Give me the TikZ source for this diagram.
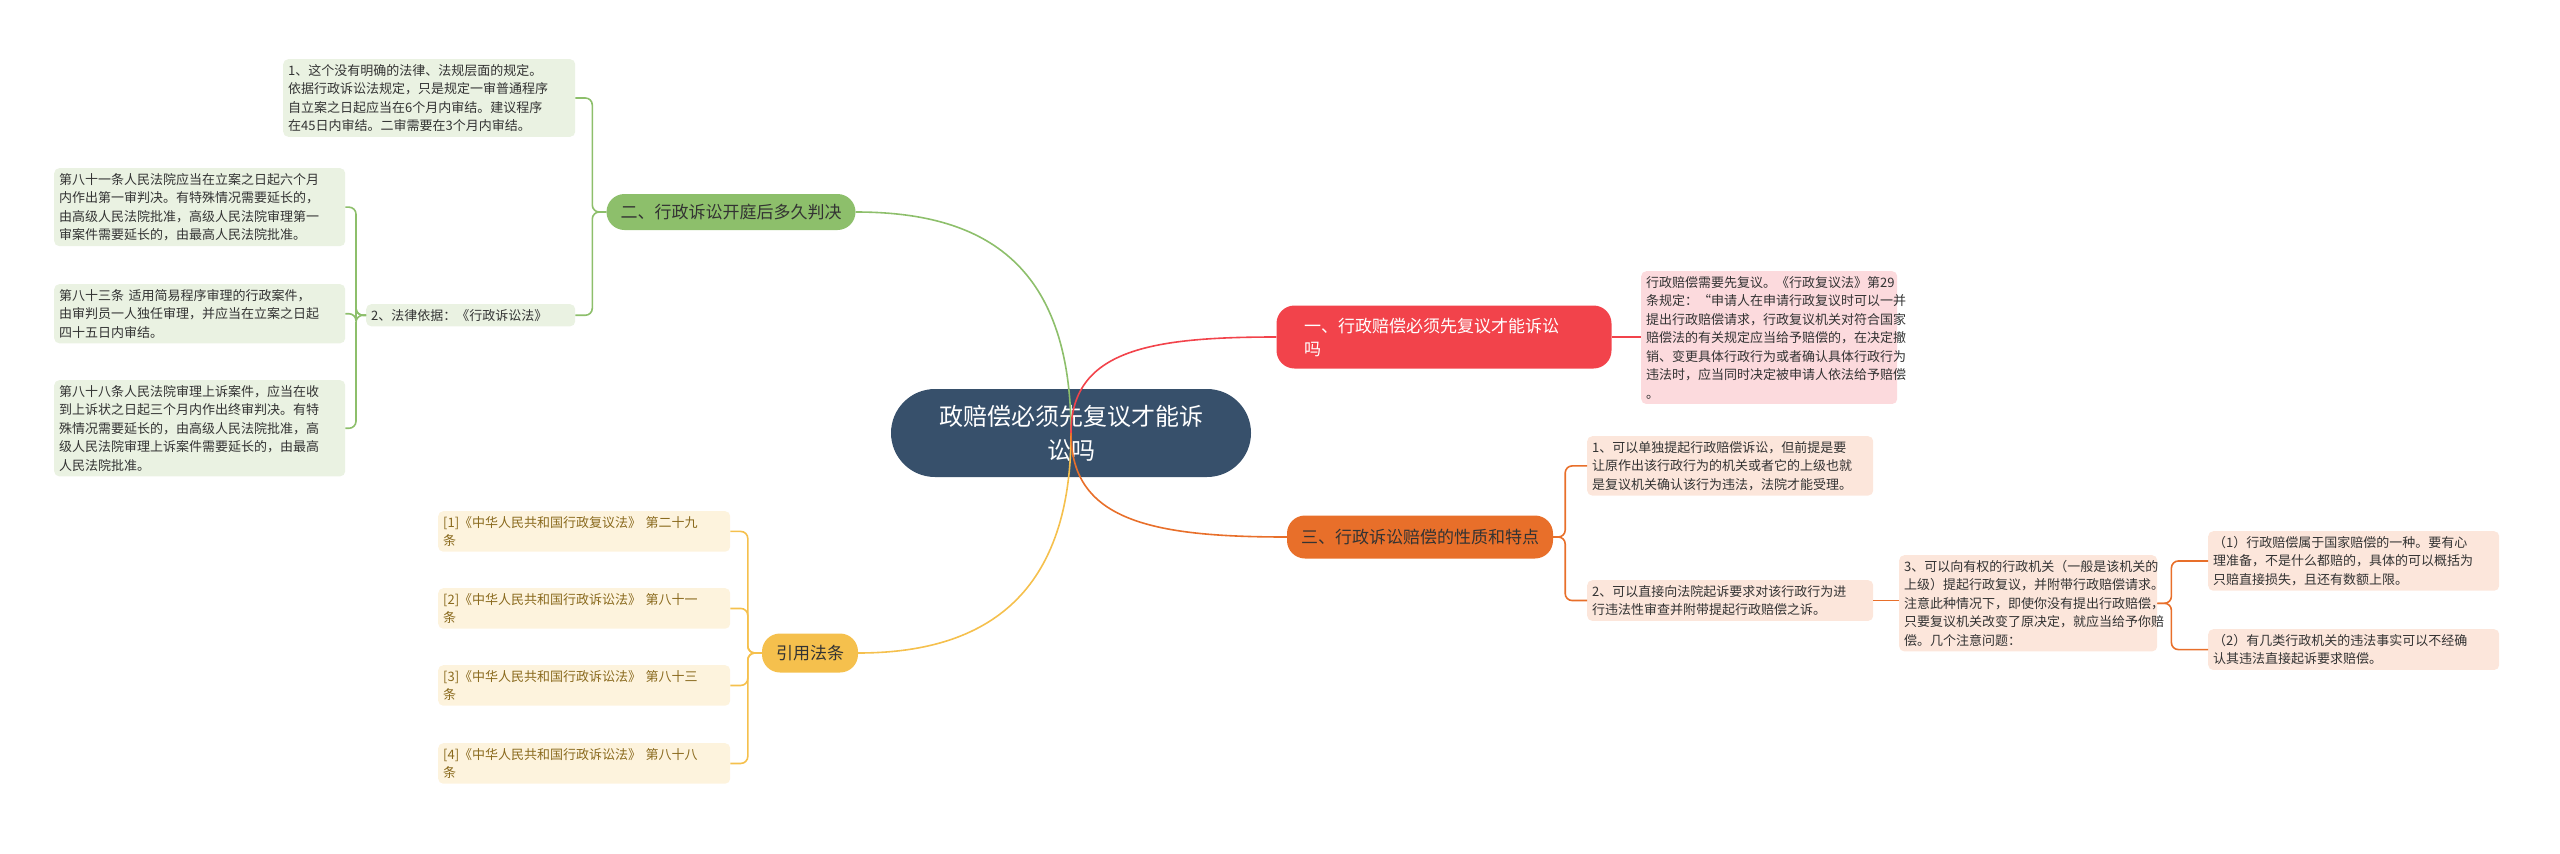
\documentclass[tikz,border=0pt]{standalone}
\usepackage{fontspec}
\setmainfont{Noto Sans CJK SC}
\usetikzlibrary{positioning}
\definecolor{cen}{HTML}{37506B}
\definecolor{grn}{HTML}{8DBF6B}
\definecolor{grnbg}{HTML}{EAF2E2}
\definecolor{red1}{HTML}{F2434B}
\definecolor{redbg}{HTML}{FCDADD}
\definecolor{org}{HTML}{E86F2A}
\definecolor{orgbg}{HTML}{FCE6DB}
\definecolor{yel}{HTML}{F5C04D}
\definecolor{yelbg}{HTML}{FDF3DD}
\definecolor{yeltx}{HTML}{8A6A1E}
\definecolor{txt}{HTML}{333333}
\begin{document}
\begin{tikzpicture}[x=1pt,y=-1pt,
  leaf/.style={rounded corners=5pt, text width=#1, align=left, inner sep=5pt, font=\fontsize{13}{18.5}\selectfont, text=txt},
  leaf/.default=262pt,
  gleaf/.style={leaf=#1, fill=grnbg},
  rleaf/.style={leaf=#1, fill=redbg},
  oleaf/.style={leaf=#1, fill=orgbg},
  yleaf/.style={leaf=#1, fill=yelbg, text=yeltx},
  branch/.style={rounded corners=18pt, inner xsep=14pt, inner ysep=8pt, font=\fontsize{17}{23}\selectfont, align=left},
  gl/.style={grn, line width=1.6pt},
  rl/.style={red1, line width=1.6pt},
  ol/.style={org, line width=1.6pt},
  yl/.style={yel, line width=1.6pt},
  br/.style={rounded corners=7pt}]
\useasboundingbox (0,0) rectangle (2560,854);

% center
\node[fill=cen, rounded corners=44pt, minimum width=360pt, minimum height=88pt, text=white, align=center, font=\fontsize{24}{34}\selectfont] (c) at (1071,433) {政赔偿必须先复议才能诉\\讼吗};

% branches
\node[branch, fill=red1, text=white, minimum width=335pt, minimum height=63pt, text width=280pt] (b1) at (1444,337) {一、行政赔偿必须先复议才能诉讼\\吗};
\node[branch, fill=grn, text=txt, minimum height=36pt] (b2) at (731,212) {二、行政诉讼开庭后多久判决};
\node[branch, fill=org, text=txt, minimum height=43pt] (b3) at (1420,537) {三、行政诉讼赔偿的性质和特点};
\node[branch, fill=yel, text=txt, minimum height=39pt] (b4) at (810,653) {引用法条};

% red leaf
\node[rleaf=246pt, anchor=north west] (r1) at (1641,271) {行政赔偿需要先复议。《行政复议法》第29\\条规定：“申请人在申请行政复议时可以一并\\提出行政赔偿请求，行政复议机关对符合国家\\赔偿法的有关规定应当给予赔偿的，在决定撤\\销、变更具体行政行为或者确认具体行政行为\\违法时，应当同时决定被申请人依法给予赔偿\\。};

% orange leaves
\node[oleaf=276pt, anchor=north west] (o1) at (1587,436) {1、可以单独提起行政赔偿诉讼，但前提是要\\让原作出该行政行为的机关或者它的上级也就\\是复议机关确认该行为违法，法院才能受理。};
\node[oleaf=276pt, anchor=north west] (o2) at (1587,580) {2、可以直接向法院起诉要求对该行政行为进\\行违法性审查并附带提起行政赔偿之诉。};
\node[oleaf=248pt, anchor=north west] (o3) at (1899,555) {3、可以向有权的行政机关（一般是该机关的\\上级）提起行政复议，并附带行政赔偿请求。\\注意此种情况下，即使你没有提出行政赔偿，\\只要复议机关改变了原决定，就应当给予你赔\\偿。几个注意问题：};
\node[oleaf=281pt, anchor=north west] (o4) at (2208,531) {（1）行政赔偿属于国家赔偿的一种。要有心\\理准备，不是什么都赔的，具体的可以概括为\\只赔直接损失，且还有数额上限。};
\node[oleaf=281pt, anchor=north west] (o5) at (2208,629) {（2）有几类行政机关的违法事实可以不经确\\认其违法直接起诉要求赔偿。};

% green leaves
\node[gleaf=282pt, anchor=north west] (g1) at (283,59) {1、这个没有明确的法律、法规层面的规定。\\依据行政诉讼法规定，只是规定一审普通程序\\自立案之日起应当在6个月内审结。建议程序\\在45日内审结。二审需要在3个月内审结。};
\node[gleaf=199pt, anchor=north west] (g2) at (366,304) {2、法律依据：《行政诉讼法》};
\node[gleaf=281pt, anchor=north west] (g3) at (54,168) {第八十一条人民法院应当在立案之日起六个月\\内作出第一审判决。有特殊情况需要延长的，\\由高级人民法院批准，高级人民法院审理第一\\审案件需要延长的，由最高人民法院批准。};
\node[gleaf=281pt, anchor=north west] (g4) at (54,284) {第八十三条 适用简易程序审理的行政案件，\\由审判员一人独任审理，并应当在立案之日起\\四十五日内审结。};
\node[gleaf=281pt, anchor=north west] (g5) at (54,380) {第八十八条人民法院审理上诉案件，应当在收\\到上诉状之日起三个月内作出终审判决。有特\\殊情况需要延长的，由高级人民法院批准，高\\级人民法院审理上诉案件需要延长的，由最高\\人民法院批准。};

% yellow leaves
\node[yleaf=282pt, anchor=north west] (y1) at (438,511) {[1]《中华人民共和国行政复议法》 第二十九\\条};
\node[yleaf=282pt, anchor=north west] (y2) at (438,588) {[2]《中华人民共和国行政诉讼法》 第八十一\\条};
\node[yleaf=282pt, anchor=north west] (y3) at (438,665) {[3]《中华人民共和国行政诉讼法》 第八十三\\条};
\node[yleaf=282pt, anchor=north west] (y4) at (438,743) {[4]《中华人民共和国行政诉讼法》 第八十八\\条};

% main connectors
\draw[gl] (c.center) .. controls (1071,260) and (980,212) .. (b2.east);
\draw[yl] (c.center) .. controls (1071,600) and (980,653) .. (b4.east);
\draw[rl] (c.center) .. controls (1071,350) and (1150,337) .. (b1.west);
\draw[ol] (c.center) .. controls (1071,520) and (1150,537) .. (b3.west);

% sub connectors
\draw[rl] (b1.east) -- (r1.west |- b1.east);
\foreach \t in {g1,g2} \draw[gl,br] (b2.west) -- ++(-14,0) |- (\t.east);
\foreach \t in {g3,g4,g5} \draw[gl,br] (g2.west) -- ++(-10,0) |- (\t.east);
\foreach \t in {y1,y2,y3,y4} \draw[yl,br] (b4.west) -- ++(-14,0) |- (\t.east);
\foreach \t in {o1,o2} \draw[ol,br] (b3.east) -- ++(12,0) |- (\t.west);
\draw[ol] (o2.east) -- (o3.west |- o2.east);
\foreach \t in {o4,o5} \draw[ol,br] (o3.east) -- ++(14,0) |- (\t.west);
\end{tikzpicture}
\end{document}
